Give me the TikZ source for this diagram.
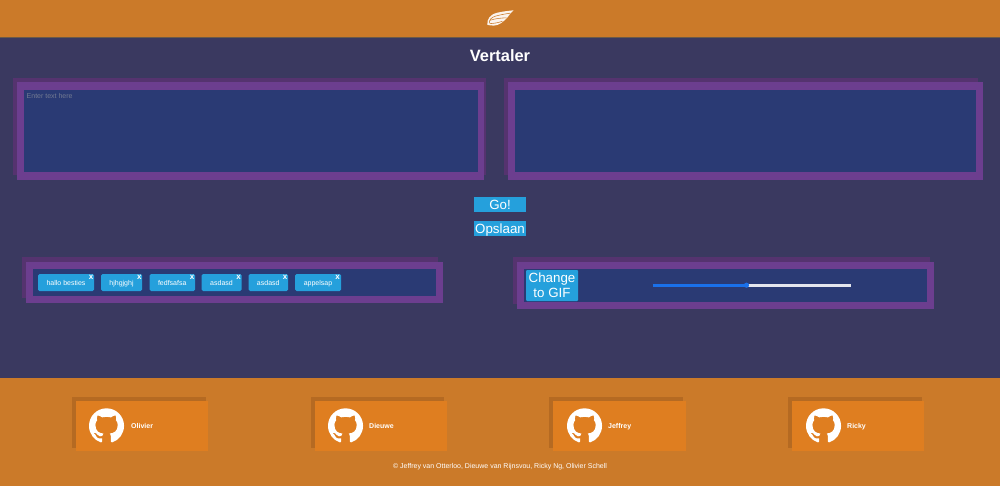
\documentclass[tikz,border=0pt]{standalone}
\usepackage{fontspec}
\setmainfont{Liberation Sans}
\definecolor{headbg}{HTML}{CB7A29}
\definecolor{headline}{HTML}{6B5A48}
\definecolor{bodybg}{HTML}{3A3960}
\definecolor{pshadow}{HTML}{55336F}
\definecolor{pmain}{HTML}{6C3E8F}
\definecolor{pinner}{HTML}{2A3A74}
\definecolor{btn}{HTML}{25A0DC}
\definecolor{cardshadow}{HTML}{B56A22}
\definecolor{cardmain}{HTML}{DF7E20}
\definecolor{hint}{HTML}{737A92}
\definecolor{sliderblue}{HTML}{1A70EA}
\definecolor{sliderwhite}{HTML}{E4E6EE}
\tikzset{
  x=1pt,y=-1pt,
  flatbox/.style={inner sep=0pt,outer sep=0pt,draw=none},
  btnbox/.style={flatbox,fill=btn,text=white,font=\fontsize{13.33}{15}\selectfont,align=center},
  btntext/.style={text height=10.2pt,text depth=0pt},
  chipbox/.style={flatbox,fill=btn,text=white,rounded corners=1.5pt,minimum height=17pt,text height=5.2pt,text depth=0.2pt,font=\fontsize{7}{8}\selectfont},
  closemark/.style={inner sep=0pt,text=white,font=\bfseries\fontsize{8}{9}\selectfont},
  cardname/.style={inner sep=0pt,anchor=west,text=white,text height=5.2pt,text depth=0pt,font=\bfseries\fontsize{7}{8}\selectfont},
  pics/octocat/.style={code={
    \fill[white,x=2.19pt,y=-2.19pt] (8,0)
      .. controls (3.58,0) and (0,3.58) .. (0,8)
      .. controls (0,11.54) and (2.29,14.53) .. (5.47,15.59)
      .. controls (5.87,15.66) and (6.02,15.42) .. (6.02,15.21)
      .. controls (6.02,15.02) and (6.01,14.39) .. (6.01,13.72)
      .. controls (4.0,14.09) and (3.48,13.23) .. (3.32,12.78)
      .. controls (3.23,12.55) and (2.84,11.84) .. (2.5,11.65)
      .. controls (2.22,11.5) and (1.82,11.13) .. (2.49,11.12)
      .. controls (3.12,11.11) and (3.57,11.70) .. (3.72,11.94)
      .. controls (4.44,13.15) and (5.59,12.81) .. (6.05,12.60)
      .. controls (6.12,12.08) and (6.33,11.73) .. (6.56,11.53)
      .. controls (4.78,11.33) and (2.92,10.64) .. (2.92,7.58)
      .. controls (2.92,6.71) and (3.23,5.99) .. (3.74,5.43)
      .. controls (3.66,5.23) and (3.38,4.41) .. (3.82,3.31)
      .. controls (3.82,3.31) and (4.49,3.10) .. (6.02,4.13)
      .. controls (6.66,3.95) and (7.34,3.86) .. (8.02,3.86)
      .. controls (8.70,3.86) and (9.38,3.95) .. (10.02,4.13)
      .. controls (11.55,3.09) and (12.22,3.31) .. (12.22,3.31)
      .. controls (12.66,4.41) and (12.38,5.23) .. (12.30,5.43)
      .. controls (12.81,5.99) and (13.12,6.70) .. (13.12,7.58)
      .. controls (13.12,10.65) and (11.25,11.33) .. (9.47,11.53)
      .. controls (9.76,11.78) and (10.01,12.26) .. (10.01,13.01)
      .. controls (10.01,14.08) and (10.00,14.94) .. (10.00,15.21)
      .. controls (10.00,15.42) and (10.15,15.67) .. (10.55,15.59)
      .. controls (13.73,14.53) and (16,11.53) .. (16,8)
      .. controls (16,3.58) and (12.42,0) .. (8,0) -- cycle;
  }}
}
\begin{document}
\begin{tikzpicture}
\useasboundingbox (0,0) rectangle (1000,486);
% backgrounds
\fill[bodybg] (0,37) rectangle (1000,378);
\fill[headbg] (0,0) rectangle (1000,37);
\fill[headline] (0,37) rectangle (1000,38);
\fill[headbg] (0,378) rectangle (1000,486);
% logo
\fill[white!92!headbg] (487.3,24.8) .. controls (487,19) and (490,14.5) .. (497,12.8)
  .. controls (503,11.3) and (509,10.8) .. (513.5,10.3)
  .. controls (511.5,12) and (509.5,14.5) .. (507.5,17.3)
  .. controls (504,21.5) and (499,25.5) .. (494,25.6)
  .. controls (491.5,25.6) and (489,25.3) .. (487.3,24.8) -- cycle;
\draw[headbg,line width=.55pt] (489.3,23.3) .. controls (489.3,19.5) and (491,17.5) .. (496,16)
  .. controls (501,14.6) and (505,14) .. (510,13.2);
\draw[headbg,line width=.55pt] (490,20.3) .. controls (495,18.6) and (501,18) .. (506.5,17.8);
\draw[headbg,line width=.55pt] (490,23.6) .. controls (494,23.4) and (498,22.8) .. (502.5,21.3);
% title
\node[inner sep=0pt,text=white,font=\bfseries\fontsize{16.4}{18}\selectfont] (title) at (500,55.5) {Vertaler};
% text panels
\fill[pshadow] (13,78.5) rectangle (486,175);
\fill[pmain] (16.5,82.5) rectangle (484,180);
\fill[pinner] (24,90) rectangle (477.5,172.5);
\node[inner sep=0pt,anchor=west,text=hint,font=\fontsize{7}{8}\selectfont] (hinttext) at (26.5,96) {Enter text here};
\fill[pshadow] (504,78.5) rectangle (978,175);
\fill[pmain] (508,82.5) rectangle (983,180);
\fill[pinner] (515,90) rectangle (976,172.5);
% buttons
\node[btnbox,btntext,minimum width=52pt,minimum height=15pt] (go) at (500,204.5) {Go!};
\node[btnbox,btntext,minimum width=52pt,minimum height=15pt] (save) at (500,228.5) {Opslaan};
% tags panel
\fill[pshadow] (22,257) rectangle (438,298);
\fill[pmain] (26,262) rectangle (443,303);
\fill[pinner] (33,269) rectangle (436,296);
\node[chipbox,minimum width=56pt] (c1) at (66,282.5) {hallo besties};
\node[chipbox,minimum width=41pt] (c2) at (121.5,282.5) {hjhgjghj};
\node[chipbox,minimum width=45.5pt] (c3) at (172.25,282.5) {fedfsafsa};
\node[chipbox,minimum width=40pt] (c4) at (221.5,282.5) {asdasd};
\node[chipbox,minimum width=39.5pt] (c5) at (268.25,282.5) {asdasd};
\node[chipbox,minimum width=46pt] (c6) at (318,282.5) {appelsap};
\node[closemark] (x1) at (91,277) {x};
\node[closemark] (x2) at (139.3,277) {x};
\node[closemark] (x3) at (192,277) {x};
\node[closemark] (x4) at (238.6,277) {x};
\node[closemark] (x5) at (285,277) {x};
\node[closemark] (x6) at (337.7,277) {x};
% gif panel
\fill[pshadow] (512.5,256.5) rectangle (930,304);
\fill[pmain] (517,262) rectangle (934,309);
\fill[pinner] (524,269) rectangle (927,302);
\node[flatbox,fill=btn,rounded corners=1pt,minimum width=52pt,minimum height=31pt] (gifbox) at (552,285.5) {};
\node[inner sep=0pt,text=white,align=center,font=\fontsize{13.33}{15}\selectfont] (gif) at (552,285.6) {Change\\to GIF};
\coordinate (sa) at (652.5,285.2);
\coordinate (sm) at (746.5,285.2);
\coordinate (sb) at (851,285.2);
\draw[sliderwhite,line width=3pt] (sm) -- (sb);
\draw[sliderblue,line width=3pt] (sa) -- (sm);
\fill[sliderblue] (sm) circle (2.6pt);
% footer cards
\foreach \sx/\mx/\rx/\ix/\tx/\nm in {72/76/208/106.5/131/Olivier,310.5/314.5/447/345.5/369/Dieuwe,549/553/686/584.5/608/Jeffrey,788/792/924/823.5/847/Ricky}{
  \fill[cardshadow] (\sx,397) rectangle ({\sx+133.5},447.5);
  \fill[cardmain] (\mx,401) rectangle (\rx,450.5);
  \pic at ({\ix-17.5},408.3) {octocat};
  \node[cardname] (name\nm) at (\tx,426) {\nm};
}
\node[inner sep=0pt,text=white,font=\fontsize{7}{8}\selectfont] (copyright) at (500,466.6) {© Jeffrey van Otterloo, Dieuwe van Rijnsvou, Ricky Ng, Olivier Schell};
\end{tikzpicture}
\end{document}
